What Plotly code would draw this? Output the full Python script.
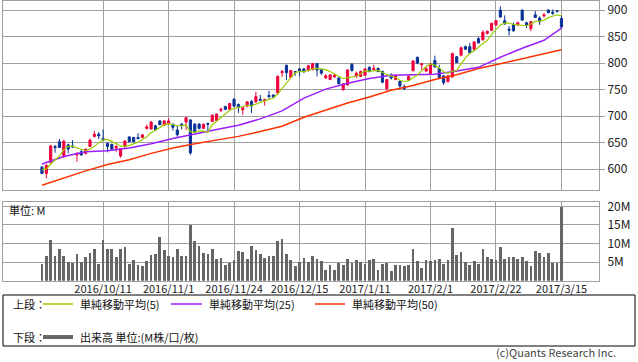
import plotly.graph_objects as go
import pandas as pd

# ---------------- data ----------------
opens = [604, 592, 613, 643, 652, 626, 646, 644, 627, 633,
         630, 643, 662, 666, 658, 649, 647, 640, 625, 643,
         661, 660, 660, 660, 677, 676, 682, 691, 683, 686,
         685, 674, 685, 689, 693, 685, 685, 677, 686, 690,
         692, 711, 718, 713, 732, 722, 712, 719, 728, 727,
         732, 729, 739, 740, 744, 782, 796, 773, 784, 789,
         789, 786, 788, 799, 788, 772, 769, 774, 772, 750,
         759, 798, 775, 775, 777, 792, 788, 790, 784, 752,
         777, 769, 766, 756, 768, 786, 811, 797, 785, 780,
         805, 790, 776, 765, 774, 812, 815, 831, 831, 826,
         846, 844, 856, 862, 872, 900, 880, 864, 873, 872,
         900, 876, 865, 891, 885, 889, 900, 896, 898, 884]
highs = [606, 610, 646, 646, 657, 655, 648, 655, 632, 637,
         639, 658, 672, 670, 675, 650, 648, 646, 640, 655,
         662, 661, 668, 666, 684, 691, 684, 693, 693, 696,
         686, 683, 687, 698, 694, 687, 687, 686, 688, 703,
         705, 716, 720, 725, 734, 724, 718, 728, 730, 746,
         740, 733, 748, 741, 777, 787, 797, 787, 785, 791,
         791, 797, 800, 800, 789, 779, 779, 781, 773, 762,
         789, 800, 784, 786, 790, 794, 797, 792, 786, 770,
         781, 778, 767, 760, 777, 805, 812, 800, 792, 800,
         814, 797, 777, 777, 820, 813, 831, 833, 838, 841,
         849, 862, 861, 876, 881, 907, 890, 870, 876, 878,
         901, 878, 879, 898, 888, 894, 901, 901, 900, 890]
lows = [591, 583, 611, 631, 640, 621, 630, 640, 614, 626,
        628, 642, 660, 657, 654, 632, 636, 633, 622, 638,
        652, 651, 656, 659, 675, 675, 673, 683, 682, 684,
        673, 661, 675, 674, 627, 668, 675, 676, 671, 689,
        690, 708, 711, 711, 717, 706, 702, 717, 706, 725,
        728, 720, 733, 735, 740, 774, 768, 772, 776, 775,
        781, 784, 786, 775, 778, 770, 768, 772, 760, 748,
        757, 784, 772, 774, 776, 783, 785, 783, 762, 748,
        769, 768, 753, 749, 766, 784, 798, 787, 783, 778,
        791, 771, 759, 764, 772, 800, 813, 825, 818, 824,
        837, 842, 854, 860, 870, 885, 872, 852, 859, 870,
        880, 866, 860, 885, 872, 886, 894, 891, 896, 866]
closes = [592, 607, 644, 641, 641, 653, 638, 642, 630, 627,
          638, 655, 666, 663, 655, 643, 638, 643, 639, 653,
          652, 652, 658, 665, 680, 689, 674, 684, 691, 691,
          679, 665, 683, 697, 631, 671, 677, 685, 685, 702,
          704, 713, 713, 724, 719, 717, 716, 727, 719, 737,
          730, 731, 737, 736, 775, 784, 782, 786, 783, 785,
          784, 795, 799, 787, 781, 776, 778, 777, 761, 761,
          787, 786, 781, 784, 789, 784, 790, 784, 764, 769,
          772, 777, 757, 752, 775, 804, 800, 799, 790, 799,
          793, 773, 763, 776, 818, 801, 829, 826, 819, 840,
          838, 858, 860, 875, 880, 887, 874, 862, 861, 876,
          881, 872, 878, 886, 878, 891, 895, 894, 897, 868]
# closes of the 4 sessions before the window (estimated), for the 5-day average
pre_closes = [600, 598, 605, 602]

volumes = [4.5, 6.7, 11.0, 6.7, 8.6, 6.7, 5.0, 4.9, 7.2, 5.0,
           6.4, 7.5, 8.6, 4.5, 11.0, 8.6, 8.6, 6.4, 8.6, 9.1,
           4.5, 5.6, 4.2, 4.0, 5.3, 6.9, 7.2, 11.8, 8.3, 6.7,
           6.4, 8.6, 6.7, 6.7, 15.0, 10.7, 9.4, 7.5, 7.2, 8.6,
           5.9, 6.1, 4.2, 4.8, 5.6, 8.0, 7.7, 5.9, 9.4, 8.3,
           7.2, 6.1, 6.7, 6.7, 10.7, 11.3, 7.2, 5.6, 4.0, 5.0,
           6.1, 5.0, 6.7, 5.9, 5.3, 2.9, 4.2, 2.9, 4.8, 4.2,
           5.9, 4.8, 5.6, 5.0, 4.5, 5.6, 5.9, 2.9, 4.5, 4.8,
           2.6, 4.2, 4.2, 4.0, 4.2, 8.6, 5.3, 3.4, 5.6, 5.3,
           5.6, 5.9, 4.5, 5.6, 14.2, 6.9, 7.7, 5.0, 4.2, 5.3,
           4.5, 8.6, 6.4, 5.9, 5.6, 9.1, 5.9, 6.4, 6.4, 5.9,
           6.4, 5.3, 4.0, 8.0, 7.5, 6.4, 7.5, 4.8, 4.8, 20.0]

# moving averages 25 / 50 at every 5th session
ma_idx = [0, 5, 10, 15, 20, 25, 30, 35, 40, 45, 50, 55, 60, 65, 70,
          75, 80, 85, 90, 95, 100, 105, 110, 115, 119]
ma25 = [610, 624, 633, 635, 640, 648, 658, 667, 675, 683, 695, 710, 734,
        751, 762, 771, 777, 778, 779, 785, 792, 811, 828, 843, 866]
ma50 = [570, 584, 597, 609, 618, 630, 640, 648, 655, 662, 671, 681, 698,
        712, 725, 736, 749, 758, 769, 778, 790, 799, 808, 817, 825]

tick_pos = [14, 29, 44, 59, 74, 89, 104, 119]
tick_labels = ["2016/10/11", "2016/11/1", "2016/11/24", "2016/12/15",
               "2017/1/11", "2017/2/1", "2017/2/22", "2017/3/15"]
price_ticks = [600, 650, 700, 750, 800, 850, 900]
vol_ticks = [5, 10, 15, 20]
vol_labels = ["5M", "10M", "15M", "20M"]

# ---------------- figure ----------------
W, H = 638, 362
FONT = "Noto Sans CJK JP"
UP, DOWN = "#f0003c", "#0a3296"
C5, C25, C50 = "#99cc00", "#9b1eff", "#ff3300"
GRID = "#a0a0a0"

x = list(range(len(closes)))
ma5 = pd.Series(pre_closes + closes).rolling(5).mean().tolist()[len(pre_closes):]


def px(xp):
    return xp / W


def py(yp):
    return 1 - yp / H


fig = go.Figure()
fig.add_trace(go.Candlestick(
    x=x, open=opens, high=highs, low=lows, close=closes,
    increasing=dict(line=dict(color=UP, width=1), fillcolor=UP),
    decreasing=dict(line=dict(color=DOWN, width=1), fillcolor=DOWN),
    whiskerwidth=0, xaxis="x", yaxis="y", showlegend=False, hoverinfo="skip"))
fig.add_trace(go.Scatter(x=ma_idx, y=ma50, mode="lines", line=dict(color=C50, width=1.5),
                         xaxis="x", yaxis="y", showlegend=False, hoverinfo="skip"))
fig.add_trace(go.Scatter(x=ma_idx, y=ma25, mode="lines", line=dict(color=C25, width=1.5),
                         xaxis="x", yaxis="y", showlegend=False, hoverinfo="skip"))
fig.add_trace(go.Scatter(x=x, y=ma5, mode="lines", line=dict(color=C5, width=1.2),
                         xaxis="x", yaxis="y", showlegend=False, hoverinfo="skip"))
fig.add_trace(go.Bar(x=x, y=volumes, marker=dict(color="#666666", line=dict(width=0)),
                     width=0.62, xaxis="x2", yaxis="y2", showlegend=False, hoverinfo="skip"))

xr = [-8.93, 127.6]
xdom = [px(3), px(599)]
axis_common = dict(showline=True, mirror=True, linecolor=GRID, linewidth=1,
                   showgrid=True, gridcolor=GRID, gridwidth=1, zeroline=False,
                   automargin=False,
                   tickfont=dict(family=FONT, size=12, color="#222222"))
fig.update_layout(
    width=W, height=H, margin=dict(l=0, r=0, t=0, b=0, autoexpand=False),
    paper_bgcolor="white", plot_bgcolor="white", showlegend=False,
    bargap=0,
    xaxis=dict(domain=xdom, range=xr, anchor="y", tickmode="array", tickvals=tick_pos,
               showticklabels=False, ticks="", rangeslider=dict(visible=False),
               **axis_common),
    yaxis=dict(domain=[py(190), py(1)], range=[561, 917], anchor="x", side="right",
               tickmode="array", tickvals=price_ticks, ticks="outside", ticklen=5,
               tickcolor=GRID, **axis_common),
    xaxis2=dict(domain=xdom, range=xr, anchor="y2", tickmode="array", tickvals=tick_pos,
                ticktext=tick_labels, ticks="", ticklabelstandoff=-2, **axis_common),
    yaxis2=dict(domain=[py(280.7), py(201.7)], range=[0, 21.24], anchor="x2", side="right",
                tickmode="array", tickvals=vol_ticks, ticktext=vol_labels, ticks="outside",
                ticklen=5, tickcolor="rgba(0,0,0,0)", **axis_common),
)
fig.update_xaxes(tickfont=dict(family=FONT, size=11, color="#222222"))

ROW1, ROW2 = 304, 337
shapes = [
    dict(type="rect", xref="paper", yref="paper", x0=px(3), x1=px(635), y0=py(346), y1=py(295),
         line=dict(color="black", width=1), fillcolor="rgba(0,0,0,0)"),
    dict(type="line", xref="paper", yref="paper", x0=px(43), x1=px(73), y0=py(ROW1), y1=py(ROW1),
         line=dict(color=C5, width=1.5)),
    dict(type="line", xref="paper", yref="paper", x0=px(171), x1=px(202), y0=py(ROW1), y1=py(ROW1),
         line=dict(color=C25, width=1.5)),
    dict(type="line", xref="paper", yref="paper", x0=px(315), x1=px(345), y0=py(ROW1), y1=py(ROW1),
         line=dict(color=C50, width=1.5)),
    dict(type="line", xref="paper", yref="paper", x0=px(43), x1=px(73), y0=py(ROW2), y1=py(ROW2),
         line=dict(color="#666666", width=4)),
]
fig.update_layout(shapes=shapes)


def note(text, xp, yp, anchor="left", yanchor="middle", size=11, color="#111111"):
    fig.add_annotation(text=text, x=px(xp), y=py(yp), xref="paper", yref="paper",
                       xanchor=anchor, yanchor=yanchor, showarrow=False,
                       font=dict(family=FONT, size=size, color=color))


note("単位: M", 7, 210)
note("上段：", 11, ROW1)
note("単純移動平均(5)", 78, ROW1)
note("単純移動平均(25)", 207, ROW1)
note("単純移動平均(50)", 350, ROW1)
note("下段：", 11, ROW2)
note("出来高 単位:(M株/口/枚)", 78, ROW2)
note("(c)Quants Research Inc.", 618, 362, anchor="right", yanchor="bottom", color="#444444")

fig.write_html("out.html", config={"displayModeBar": False},
               post_script="document.body.style.margin='0';document.body.style.overflow='hidden';")
